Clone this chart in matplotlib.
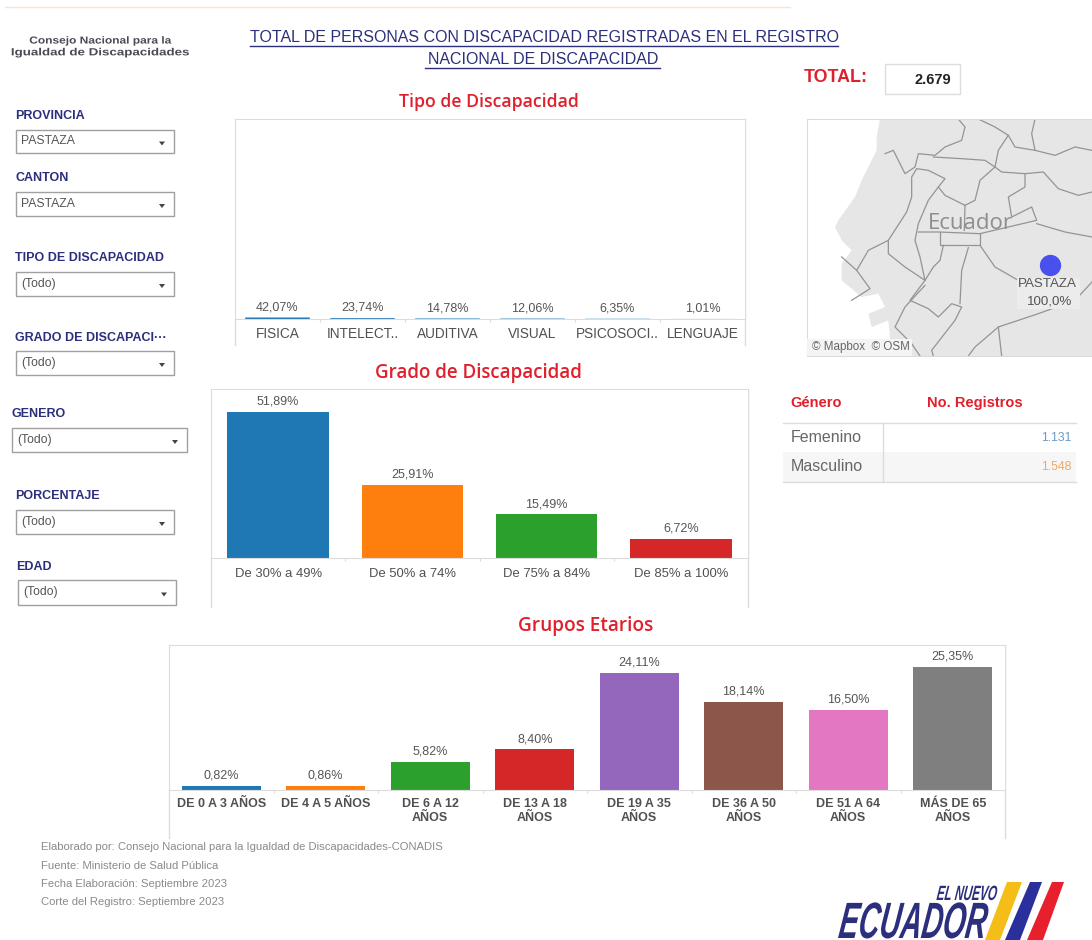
import matplotlib
matplotlib.use("Agg")
import matplotlib.pyplot as plt
import matplotlib.patheffects as pe
from matplotlib.patches import Polygon, Rectangle
from matplotlib.transforms import Affine2D

plt.rcParams['font.family'] = ['Liberation Sans', 'DejaVu Sans']

W, H = 1092, 940
NAVY = '#2b2f7c'
RED = '#e0202c'
GRID = '#dcdcdc'
TAB = ['#1f77b4', '#ff7f0e', '#2ca02c', '#d62728', '#9467bd', '#8c564b', '#e377c2', '#7f7f7f']

# Datos
tipo_labels = ['FISICA', 'INTELECT..', 'AUDITIVA', 'VISUAL', 'PSICOSOCI..', 'LENGUAJE']
tipo_values = [42.07, 23.74, 14.78, 12.06, 6.35, 1.01]
grado_labels = ['De 30% a 49%', 'De 50% a 74%', 'De 75% a 84%', 'De 85% a 100%']
grado_values = [51.89, 25.91, 15.49, 6.72]
edad_labels = ['DE 0 A 3 AÑOS', 'DE 4 A 5 AÑOS', 'DE 6 A 12\nAÑOS', 'DE 13 A 18\nAÑOS',
               'DE 19 A 35\nAÑOS', 'DE 36 A 50\nAÑOS', 'DE 51 A 64\nAÑOS', 'MÁS DE 65\nAÑOS']
edad_values = [0.82, 0.86, 5.82, 8.40, 24.11, 18.14, 16.50, 25.35]
genero_labels = ['Femenino', 'Masculino']
genero_values = ['1.131', '1.548']
total_text = '2.679'

filter_labels = ['PROVINCIA', 'CANTON', 'TIPO DE DISCAPACIDAD', 'GRADO DE DISCAPACI\u00b7\u00b7\u00b7',
                 'GENERO', 'PORCENTAJE', 'EDAD']
filter_values = ['PASTAZA', 'PASTAZA', '(Todo)', '(Todo)', '(Todo)', '(Todo)', '(Todo)']
# x etiqueta, y etiqueta, caja x0, y0, x1, y1
filter_boxes = [(15, 115, 16, 130, 174, 153), (15, 177, 16, 192, 174, 216), (15, 257, 16, 272, 174, 296),
                (15, 337, 16, 351, 174, 375), (11, 413, 12, 428, 187, 452), (15, 495, 16, 510, 174, 534),
                (16, 566, 18, 580, 176, 605)]

footer_lines = ['Elaborado por: Consejo Nacional para la Igualdad de Discapacidades-CONADIS',
                'Fuente: Ministerio de Salud Pública',
                'Fecha Elaboración: Septiembre 2023',
                'Corte del Registro: Septiembre 2023']

# Mapa: contorno de tierra y limites, leidos a ojo
land = [(225, 6), (215, 60), (215, 100), (170, 190), (150, 240), (100, 310), (90, 330), (110, 370), (140, 400),
        (110, 440), (110, 490), (170, 540), (220, 530), (240, 570), (190, 590), (200, 630), (250, 610),
        (260, 717), (861, 717), (861, 6)]
borders = [
    [(460, 6), (480, 30), (470, 70), (420, 90), (390, 115), (340, 110), (330, 150), (300, 170), (280, 130), (265, 100), (240, 110)],
    [(520, 6), (570, 30), (610, 55), (580, 100), (570, 150), (590, 165), (660, 170), (715, 165), (760, 215), (820, 235), (861, 225)],
    [(610, 55), (630, 90), (690, 100), (750, 115), (810, 90), (861, 100)],
    [(690, 6), (680, 50), (690, 100)],
    [(385, 120), (470, 125), (540, 130), (570, 150), (525, 190), (510, 250), (480, 265), (420, 235), (400, 210), (420, 185), (370, 160), (335, 155), (320, 180), (320, 240), (305, 285), (250, 370), (250, 410), (300, 450), (360, 490)],
    [(400, 210), (370, 250), (340, 320), (330, 370), (345, 420), (360, 490)],
    [(660, 170), (660, 210), (610, 240), (620, 300), (680, 270), (695, 310), (610, 330), (525, 350), (400, 345), (340, 345)],
    [(480, 265), (478, 340)],
    [(695, 320), (780, 345), (861, 360)],
    [(405, 345), (405, 385), (525, 385), (525, 350)],
    [(525, 385), (570, 450), (640, 490)],
    [(490, 392), (470, 460), (465, 560)],
    [(415, 385), (405, 430), (385, 450), (360, 490)],
    [(360, 490), (315, 550), (370, 575), (400, 600), (440, 560), (470, 570), (450, 610), (380, 700), (385, 717)],
    [(360, 505), (300, 570), (270, 630), (320, 680), (345, 717)],
    [(110, 420), (155, 460), (195, 515), (140, 550)],
    [(155, 460), (190, 400), (250, 370)],
    [(861, 495), (810, 550), (700, 590), (580, 630), (510, 690), (490, 717)],
    [(580, 630), (590, 717)],
]


class Stretch(pe.AbstractPathEffect):
    # estira e inclina el texto desde y_top (pixel de la imagen), shift > 0 baja el texto
    def __init__(self, sy, y_top, shift=0, skew=0):
        super().__init__()
        self.sy, self.yd, self.shift, self.skew = sy, H - y_top, shift, skew

    def draw_path(self, renderer, gc, tpath, affine, rgbFace=None):
        extra = (Affine2D().translate(0, -self.yd).scale(1, self.sy).skew_deg(self.skew, 0)
                 .translate(0, self.yd - self.shift))
        renderer.draw_path(gc, tpath, affine + extra, rgbFace)


def panel_axes(x0, y0, x1, y1):
    # eje en coordenadas de pixel de la imagen
    return fig.add_axes([x0 / W, 1 - y1 / H, (x1 - x0) / W, (y1 - y0) / H])


def bar_panel(x0, y0, x1, y1, labels, values, ymax, colors, width, size, weight='normal', pad=6):
    ax = panel_axes(x0, y0, x1, y1)
    pos = list(range(len(values)))
    bars = ax.bar(pos, values, width=width, color=colors)
    ax.set_xlim(-0.5, len(values) - 0.5)
    ax.set_ylim(0, ymax)
    for b, v in zip(bars, values):
        ax.annotate(f'{v:.2f}%'.replace('.', ','), (b.get_x() + width / 2, v), xytext=(0, 3),
                    textcoords='offset points', ha='center', va='bottom', fontsize=9, color='#555555')
    ax.set_xticks(pos)
    ax.set_xticklabels(labels, fontsize=size, color='#505050', linespacing=1.2, weight=weight)
    ax.set_xticks([p + 0.5 for p in pos[:-1]], minor=True)
    ax.tick_params(axis='x', which='major', length=0, pad=pad)
    ax.tick_params(axis='x', which='minor', length=2.5, color=GRID, width=0.8)
    ax.set_yticks([])
    ax.spines['right'].set_visible(False)
    for s in ['top', 'left', 'bottom']:
        ax.spines[s].set_color(GRID)
    return ax


fig = plt.figure(figsize=(W / 100, H / 100), dpi=100, facecolor='white')
page = fig.add_axes([0, 0, 1, 1])
page.set_xlim(0, W)
page.set_ylim(H, 0)
page.axis('off')

page.plot([5, 790], [7, 7], color='#fbe3d0', lw=1)

# Logo superior
page.text(100, 41, 'Consejo Nacional para la', ha='center', va='center', fontsize=8.6, weight='bold', color='#4a4a55',
          path_effects=[Stretch(0.85, 41)])
page.text(100, 53, 'Igualdad de Discapacidades', ha='center', va='center', fontsize=9.6, weight='bold', color='#4a4a55',
          path_effects=[Stretch(0.78, 53)])

# Titulo subrayado
page.text(544, 37, 'TOTAL DE PERSONAS CON DISCAPACIDAD REGISTRADAS EN EL REGISTRO', ha='center', va='center',
          fontsize=11.5, color=NAVY)
page.text(543, 59, 'NACIONAL DE DISCAPACIDAD', ha='center', va='center', fontsize=11.5, color=NAVY)
page.plot([250, 838], [46, 46], color=NAVY, lw=1)
page.plot([425, 660], [68, 68], color=NAVY, lw=1)

page.text(804, 78, 'TOTAL:', ha='left', va='center', fontsize=12.9, weight='bold', color=RED)
page.add_patch(Rectangle((885, 64), 75, 30, fc='white', ec=GRID, lw=1))
page.text(951, 80, total_text, ha='right', va='center', fontsize=10.5, weight='bold', color='#222222')

# Filtros
for label, value, box in zip(filter_labels, filter_values, filter_boxes):
    lx, ly, x0, y0, x1, y1 = box
    page.text(lx, ly + 1, label, ha='left', va='center', fontsize=9, weight='bold', color=NAVY)
    page.add_patch(Rectangle((x0, y0), x1 - x0, y1 - y0, fc='white', ec='#a0a0a0', lw=1))
    page.text(x0 + 5, (y0 + y1) / 2, value, ha='left', va='center', fontsize=8.8, color='#555555')
    cx, cy = x1 - 12, (y0 + y1) / 2 + 2
    page.add_patch(Polygon([(cx - 3, cy - 2), (cx + 3, cy - 2), (cx, cy + 2)], fc='#444444', ec='none'))

# Titulos de paneles
for x, y, s, fs in [(489, 102, 'Tipo de Discapacidad', 12.7), (478, 373, 'Grado de Discapacidad', 13.5),
                    (586, 626, 'Grupos Etarios', 13.7)]:
    page.text(x, y, s, ha='center', va='center', fontsize=fs, weight='semibold', color=RED,
              family=['Open Sans', 'DejaVu Sans'])

# Graficos de barras
tipo_ax = bar_panel(235, 119, 745, 319, tipo_labels, tipo_values, 5600, TAB[0], 0.76, 9.8)
for b in tipo_ax.patches:
    b.set_snap(False)  # barras de menos de un pixel, casi no se ven
bar_panel(211, 389, 748, 558, grado_labels, grado_values, 60.1, TAB[:4], 0.755, 9.4, pad=7)
bar_panel(169, 645, 1005, 790, edad_labels, edad_values, 29.9, TAB, 0.755, 9, weight='bold')
for x, y0, y1 in [(235, 319, 345), (211, 558, 607), (169, 790, 838)]:
    page.plot([x, x], [y0, y1], color=GRID, lw=1)
page.plot([748, 748], [389, 607], color=GRID, lw=1)
page.plot([745, 745], [119, 345], color=GRID, lw=1)
page.plot([1005, 1005], [645, 838], color=GRID, lw=1)

# Mapa
m = panel_axes(807, 119, 1092, 356)
m.set_xlim(6, 861)
m.set_ylim(717, 6)
m.set_xticks([])
m.set_yticks([])
for s in m.spines.values():
    s.set_color(GRID)
m.spines['right'].set_visible(False)
m.add_patch(Polygon(land, fc='#e6e6e6', ec='none'))
for line in borders:
    m.plot([p[0] for p in line], [p[1] for p in line], color='#949494', lw=0.9)
m.text(495, 320, 'Ecuador', ha='center', va='center', fontsize=16, color='#8e8e8e', family=['Open Sans', 'DejaVu Sans'])
m.add_patch(Rectangle((635, 482), 190, 95, fc='#ececec', ec='none', zorder=3))
m.scatter([736], [445], s=205, color='#4a50ee', zorder=4)
m.text(728, 502, 'PASTAZA', ha='center', va='center', fontsize=9.6, color='#555555', zorder=4)
m.text(735, 555, '100,0%', ha='center', va='center', fontsize=9.6, color='#555555', zorder=4)
m.add_patch(Rectangle((6, 665), 315, 52, fc='#f4f4f4', ec='none', zorder=3))
m.text(22, 690, '© Mapbox  © OSM', ha='left', va='center', fontsize=8.4, color='#666666', zorder=4)

# Tabla de genero
page.text(790, 403, 'Género', ha='left', va='center', fontsize=10.5, weight='bold', color=RED)
page.text(975, 403, 'No. Registros', ha='center', va='center', fontsize=10.5, weight='bold', color=RED)
page.add_patch(Rectangle((783, 452), 293, 30, fc='#f6f6f6', ec='none'))
page.plot([783, 1076], [423, 423], color=GRID, lw=1)
page.plot([783, 1076], [482, 482], color=GRID, lw=1)
page.plot([883, 883], [423, 482], color=GRID, lw=1)
for i, (g, v) in enumerate(zip(genero_labels, genero_values)):
    y = 438 + i * 28.5
    page.text(791, y, g, ha='left', va='center', fontsize=11.5, color='#666666')
    page.text(1071, y, v, ha='right', va='center', fontsize=8.8, color=['#6a9bc3', '#f0a868'][i])

# Pie
for y, s in zip([847, 866, 884, 902], footer_lines):
    page.text(41, y, s, ha='left', va='center', fontsize=8.1, color='#8a8a8a')

# Logo inferior
page.text(966, 896, 'EL NUEVO', ha='center', va='baseline', fontsize=8.5, weight='bold', style='italic', color=NAVY,
          path_effects=[Stretch(1.75, 896, shift=4, skew=8)])
page.text(911, 928, 'ECUADOR', ha='center', va='baseline', fontsize=21, weight='bold', style='italic', color=NAVY,
          path_effects=[Stretch(1.75, 928, shift=10, skew=8)])
for pts, c in [([(985, 940), (1007, 882), (1022, 882), (1000, 940)], '#f5bd17'),
               ([(1005, 940), (1030, 882), (1042, 882), (1020, 940)], '#2b2f9c'),
               ([(1027, 940), (1052, 882), (1064, 882), (1043, 940)], '#e8202e')]:
    page.add_patch(Polygon(pts, fc=c, ec='none'))

fig.savefig('out.png', dpi=100)
